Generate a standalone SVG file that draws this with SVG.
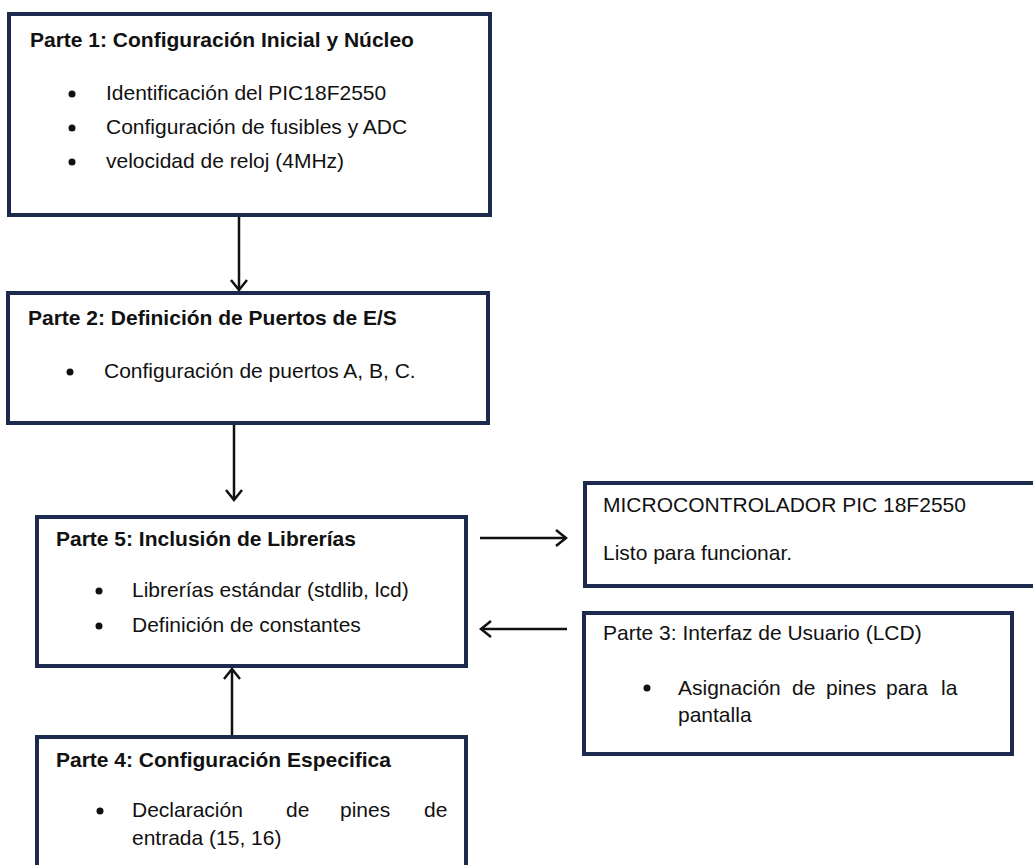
<svg xmlns="http://www.w3.org/2000/svg" width="1033" height="865" viewBox="0 0 1033 865">
<style>
.box{fill:#ffffff;stroke:#1b2a4d;stroke-width:4}
.t{font-family:"Liberation Sans",Arial,sans-serif;font-size:21px;fill:#111111}
.b{font-weight:bold}
.dot{fill:#111111}
.con{stroke:#111111;stroke-width:2.5;fill:none}
</style>
<defs>
<marker id="arr" markerUnits="userSpaceOnUse" markerWidth="14" markerHeight="20" refX="11" refY="9" orient="auto">
<path d="M1,1 L11,9 L1,17" fill="none" stroke="#111111" stroke-width="2.5"/>
</marker>
</defs>
<rect width="1033" height="865" fill="#ffffff"/>
<g id="connectors">
<line class="con" x1="239" y1="215" x2="239" y2="290" marker-end="url(#arr)"/>
<line class="con" x1="234" y1="423" x2="234" y2="500" marker-end="url(#arr)"/>
<line class="con" x1="232" y1="737" x2="232" y2="669" marker-end="url(#arr)"/>
<line class="con" x1="480" y1="538" x2="566" y2="538" marker-end="url(#arr)"/>
<line class="con" x1="567" y1="629" x2="481" y2="629" marker-end="url(#arr)"/>
</g>
<g id="parte1">
<rect class="box" x="9" y="14" width="481" height="201"/>
<text class="t b" x="30" y="47">Parte 1: Configuración Inicial y Núcleo</text>
<circle class="dot" cx="72" cy="94" r="3.5"/>
<text class="t" x="106" y="100">Identificación del PIC18F2550</text>
<circle class="dot" cx="72" cy="128" r="3.5"/>
<text class="t" x="106" y="134">Configuración de fusibles y ADC</text>
<circle class="dot" cx="72" cy="162" r="3.5"/>
<text class="t" x="106" y="168">velocidad de reloj (4MHz)</text>
</g>
<g id="parte2">
<rect class="box" x="8" y="293" width="480" height="130"/>
<text class="t b" x="28" y="325">Parte 2: Definición de Puertos de E/S</text>
<circle class="dot" cx="70" cy="372" r="3.5"/>
<text class="t" x="104" y="378">Configuración de puertos A, B, C.</text>
</g>
<g id="parte5">
<rect class="box" x="37" y="517" width="429" height="149"/>
<text class="t b" x="56" y="546">Parte 5: Inclusión de Librerías</text>
<circle class="dot" cx="99" cy="591" r="3.5"/>
<text class="t" x="132" y="597">Librerías estándar (stdlib, lcd)</text>
<circle class="dot" cx="99" cy="626" r="3.5"/>
<text class="t" x="132" y="632">Definición de constantes</text>
</g>
<g id="parte4">
<rect class="box" x="37" y="737" width="429" height="160"/>
<text class="t b" x="56" y="767">Parte 4: Configuración Especifica</text>
<circle class="dot" cx="100" cy="811" r="3.5"/>
<text class="t" x="132" y="817">Declaración</text>
<text class="t" x="286" y="817">de</text>
<text class="t" x="340" y="817">pines</text>
<text class="t" x="424" y="817">de</text>
<text class="t" x="132" y="845">entrada (15, 16)</text>
</g>
<g id="micro">
<rect class="box" x="585" y="483" width="470" height="103"/>
<text class="t" x="603" y="512">MICROCONTROLADOR PIC 18F2550</text>
<text class="t" x="603" y="560">Listo para funcionar.</text>
</g>
<g id="parte3">
<rect class="box" x="584" y="613" width="428" height="141"/>
<text class="t" x="603" y="640">Parte 3: Interfaz de Usuario (LCD)</text>
<circle class="dot" cx="647" cy="688" r="3.5"/>
<text class="t" x="678" y="695">Asignación</text>
<text class="t" x="792" y="695">de</text>
<text class="t" x="826" y="695">pines</text>
<text class="t" x="886" y="695">para</text>
<text class="t" x="941" y="695">la</text>
<text class="t" x="678" y="722">pantalla</text>
</g>
</svg>
